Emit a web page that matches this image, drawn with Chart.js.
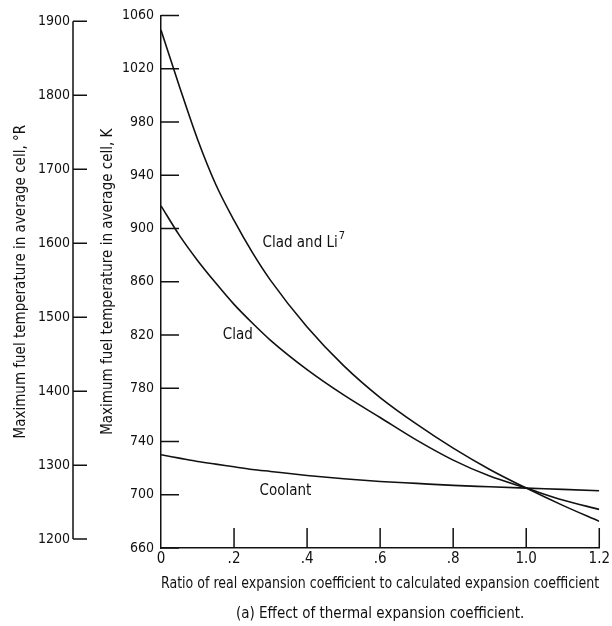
<!DOCTYPE html>
<html lang="en">
<head>
  <meta charset="UTF-8" />
  <title>Effect of thermal expansion coefficient</title>
  <script src="https://cdn.jsdelivr.net/npm/chart.js"></script>
  <style>
    html, body { margin: 0; padding: 0; background: #fff; }
    #wrap { width: 612px; height: 626px; }
  </style>
</head>
<body>
  <div id="wrap"><canvas id="chart" width="612" height="626"></canvas></div>

  <script>
    // ratio of real to calculated expansion coefficient
    const ratio = [0, 0.05, 0.1, 0.15, 0.2, 0.25, 0.3, 0.4, 0.5, 0.6, 0.7, 0.8, 0.9, 1.0, 1.1, 1.2];
    // max fuel temperature, K
    const cladLi7 = [1049, 1007, 967, 933, 906, 882, 861, 826, 797, 773, 753, 735, 719, 705, 692, 680];
    const clad = [917, 895, 876, 859, 843, 829, 816, 794, 775, 758, 741, 726, 714, 705, 696, 689];
    const coolant = [730, 727.5, 725, 723, 721, 719, 717.5, 714.5, 712, 710, 708.5, 707, 706, 705, 704, 703];

    const kTicks = [660, 700, 740, 780, 820, 860, 900, 940, 980, 1020, 1060];
    const rTicks = [1200, 1300, 1400, 1500, 1600, 1700, 1800, 1900];
    const xTicks = [0, 0.2, 0.4, 0.6, 0.8, 1.0, 1.2];

    // curve labels, in data units (ratio, K)
    const curveLabels = [
      { text: 'Clad and Li', sup: '7', x: 0.278, y: 889 },
      { text: 'Clad', sup: '', x: 0.169, y: 820 },
      { text: 'Coolant', sup: '', x: 0.27, y: 703 }
    ];

    const FONT = "'Liberation Sans Narrow', 'DejaVu Sans Condensed', 'Roboto', sans-serif";
    const INK = '#111';

    const series = (vals) => ratio.map((r, i) => ({ x: r, y: vals[i] }));

    function lineSet(vals) {
      return {
        data: series(vals),
        borderColor: INK,
        borderWidth: 1.6,
        pointRadius: 0,
        fill: false,
        cubicInterpolationMode: 'monotone'
      };
    }

    // inward tick marks, the short °R axis line and the curve labels
    const marks = {
      id: 'marks',
      afterDraw(chart) {
        const { ctx, chartArea } = chart;
        const x = chart.scales.x, y = chart.scales.y, y2 = chart.scales.y2;
        ctx.save();
        ctx.strokeStyle = INK;
        ctx.lineWidth = 1.5;
        ctx.beginPath();
        kTicks.forEach(v => {
          const py = y.getPixelForValue(v);
          ctx.moveTo(chartArea.left, py);
          ctx.lineTo(chartArea.left + 18, py);
        });
        xTicks.forEach(v => {
          if (v === 0) return;
          const px = x.getPixelForValue(v);
          ctx.moveTo(px, chartArea.bottom);
          ctx.lineTo(px, chartArea.bottom - 20);
        });
        const rx = y2.right;
        ctx.moveTo(rx, y2.getPixelForValue(rTicks[0]));
        ctx.lineTo(rx, y2.getPixelForValue(rTicks[rTicks.length - 1]));
        rTicks.forEach(v => {
          const py = y2.getPixelForValue(v);
          ctx.moveTo(rx, py);
          ctx.lineTo(rx + 14, py);
        });
        ctx.stroke();

        ctx.fillStyle = INK;
        ctx.textBaseline = 'middle';
        ctx.textAlign = 'left';
        curveLabels.forEach(l => {
          const px = x.getPixelForValue(l.x), py = y.getPixelForValue(l.y);
          ctx.font = '15px ' + FONT;
          ctx.fillText(l.text, px, py);
          if (l.sup) {
            const w = ctx.measureText(l.text).width;
            ctx.font = '11px ' + FONT;
            ctx.fillText(l.sup, px + w + 1, py - 7);
          }
        });
        ctx.restore();
      }
    };

    const plain = v => String(v);

    new Chart(document.getElementById('chart'), {
      type: 'line',
      data: {
        datasets: [lineSet(cladLi7), lineSet(clad), lineSet(coolant)]
      },
      options: {
        responsive: false,
        animation: false,
        layout: { padding: { top: 15, right: 11, left: 0, bottom: 0 } },
        plugins: {
          legend: { display: false },
          tooltip: { enabled: false },
          title: {
            display: true,
            position: 'bottom',
            fullSize: false,
            text: '(a) Effect of thermal expansion coefficient.',
            color: INK,
            font: { family: FONT, size: 15, weight: 'normal' },
            padding: { top: 5, bottom: 3 }
          }
        },
        scales: {
          x: {
            type: 'linear',
            min: 0,
            max: 1.2,
            afterFit: s => { s.height = 52; },
            afterBuildTicks: s => { s.ticks = xTicks.map(v => ({ value: v })); },
            grid: { display: false, drawTicks: false },
            border: { display: true, color: INK, width: 1.5 },
            ticks: {
              color: INK,
              padding: 2,
              maxRotation: 0,
              font: { family: FONT, size: 15 },
              callback: v => v === 0 ? '0' : (v >= 1 ? v.toFixed(1) : v.toFixed(1).slice(1))
            },
            title: {
              display: true,
              text: 'Ratio of real expansion coefficient to calculated expansion coefficient',
              color: INK,
              font: { family: FONT, size: 15 },
              padding: { top: 0, bottom: 7 }
            }
          },
          y: {
            type: 'linear',
            position: 'left',
            min: 660,
            max: 1060,
            weight: 0,
            afterFit: s => { s.width = 88; },
            afterBuildTicks: s => { s.ticks = kTicks.map(v => ({ value: v })); },
            grid: { display: false, drawTicks: false },
            border: { display: true, color: INK, width: 1.5 },
            ticks: { color: INK, padding: 7, font: { family: FONT, size: 14 }, callback: plain },
            title: {
              display: true,
              text: 'Maximum fuel temperature in average cell, K',
              color: INK,
              font: { family: FONT, size: 15 },
              padding: { top: 26, bottom: 0 }
            }
          },
          y2: {
            type: 'linear',
            position: 'left',
            min: 660 * 1.8,
            max: 1060 * 1.8,
            weight: 10,
            afterFit: s => { s.width = 73; },
            afterBuildTicks: s => { s.ticks = rTicks.map(v => ({ value: v })); },
            grid: { display: false, drawTicks: false },
            border: { display: false },
            ticks: { color: INK, padding: 3, font: { family: FONT, size: 14 }, callback: plain },
            title: {
              display: true,
              text: 'Maximum fuel temperature in average cell, \u00B0R',
              color: INK,
              font: { family: FONT, size: 15 },
              padding: { top: 12, bottom: 0 }
            }
          }
        }
      },
      plugins: [marks]
    });
  </script>
</body>
</html>
